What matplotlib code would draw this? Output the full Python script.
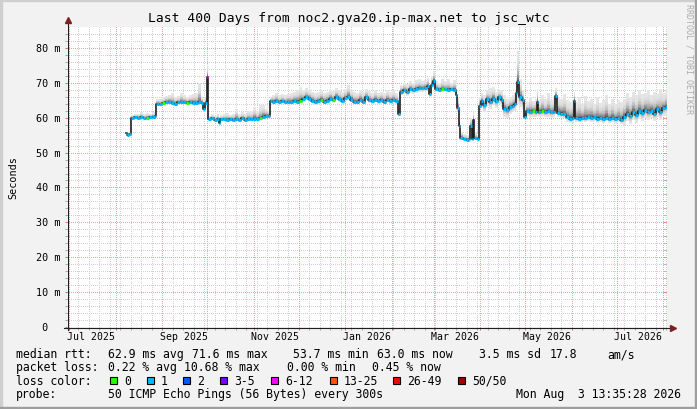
import datetime as dt
import numpy as np
import matplotlib
matplotlib.use("Agg")
import matplotlib.pyplot as plt
import matplotlib.transforms as mtransforms
from matplotlib.collections import LineCollection
from matplotlib.lines import Line2D
from matplotlib.patches import Rectangle

plt.rcParams['font.family'] = ['DejaVu Sans Mono']

W, H = 697, 410
start = dt.datetime(2025, 6, 29, 13, 35, 28)   # 400 days before the stamp
span_days = 400.0
y_max = 86.0

title = 'Last 400 Days from noc2.gva20.ip-max.net to jsc_wtc'

# sample times in days since start
days = [39.3, 40.3, 41.3, 42.7, 44.7, 46.7, 48.7, 50.7, 52.7, 54.7,
        56.7, 58.7, 59.3, 61.3, 63.3, 65.3, 67.3, 69.3, 71.3, 73.3,
        75.3, 77.3, 79.3, 81.3, 83.3, 85.3, 87.3, 89.3, 90.7, 91.7,
        93.0, 94.0, 96.0, 98.0, 100.0, 101.3, 102.3, 104.0, 106.0, 108.0,
        110.0, 112.0, 114.0, 116.0, 118.0, 120.0, 122.0, 124.0, 126.0, 128.0,
        130.0, 132.0, 134.0, 135.0, 136.7, 138.7, 140.7, 142.7, 144.7, 146.7,
        148.7, 150.7, 152.7, 154.7, 156.7, 158.7, 160.7, 162.7, 164.7, 166.7,
        168.7, 170.7, 172.7, 174.7, 176.7, 178.7, 180.7, 182.7, 184.7, 186.7,
        188.7, 190.7, 192.7, 194.7, 196.7, 198.7, 200.7, 202.7, 204.7, 206.7,
        208.7, 210.7, 212.7, 214.7, 216.7, 218.7, 220.7, 222.0, 224.0, 226.0,
        228.0, 230.0, 232.0, 234.0, 236.0, 238.0, 240.0, 241.3, 242.7, 244.0,
        245.3, 247.3, 249.3, 251.3, 253.3, 255.3, 257.3, 259.3, 260.3, 261.3,
        262.3, 264.0, 266.0, 268.0, 268.7, 269.7, 270.5, 271.3, 273.3, 274.7,
        276.0, 277.3, 279.3, 281.3, 283.3, 285.3, 287.3, 289.3, 290.7, 292.7,
        294.7, 296.7, 298.0, 299.3, 300.3, 301.3, 303.3, 304.7, 306.3, 308.3,
        310.3, 312.3, 313.3, 314.3, 316.0, 318.0, 320.0, 322.0, 324.0, 325.3,
        326.7, 328.7, 330.7, 332.7, 334.7, 336.7, 337.7, 338.7, 340.7, 342.7,
        344.7, 346.7, 348.7, 350.7, 352.7, 354.7, 356.7, 358.7, 360.7, 362.7,
        364.7, 366.7, 368.7, 370.7, 372.7, 374.7, 376.7, 378.7, 380.7, 382.7,
        384.7, 386.7, 388.7, 390.7, 392.7, 394.7, 396.7, 398.7]
data_end = 400.0

# median rtt (ms)
median = [55.5, 55.1, 55.4, 59.9, 60.1, 60.0, 60.2, 59.9, 60.0, 60.1,
          60.3, 60.4, 64.0, 63.8, 64.1, 64.5, 64.6, 64.2, 64.0, 64.4,
          64.5, 64.4, 64.3, 64.5, 64.3, 64.2, 64.4, 64.2, 62.5, 64.3,
          71.6, 59.5, 59.8, 59.4, 59.7, 58.6, 59.5, 59.6, 59.4, 59.7,
          59.3, 59.6, 59.4, 59.8, 59.3, 59.6, 59.5, 59.7, 59.6, 59.8,
          60.3, 60.5, 60.6, 64.8, 64.6, 64.9, 64.5, 64.7, 64.4, 64.6,
          64.5, 64.8, 64.6, 64.9, 65.3, 65.9, 65.5, 64.9, 64.5, 64.7,
          65.2, 64.6, 64.9, 65.5, 65.0, 66.0, 65.3, 64.8, 65.6, 66.0,
          65.2, 64.6, 64.6, 65.2, 64.6, 65.8, 65.0, 64.7, 65.2, 64.8,
          65.1, 64.6, 65.2, 64.8, 65.1, 64.7, 61.0, 67.4, 67.9, 67.3,
          68.2, 67.9, 68.1, 68.4, 68.4, 68.6, 69.1, 66.9, 69.5, 70.6,
          68.3, 68.0, 68.2, 68.1, 68.0, 68.1, 68.0, 66.5, 62.9, 57.7,
          54.3, 53.9, 53.7, 54.0, 57.5, 53.8, 59.4, 54.1, 53.8, 63.4,
          64.8, 63.5, 65.3, 64.6, 65.5, 64.7, 65.8, 65.1, 62.6, 62.1,
          63.0, 63.4, 64.0, 67.0, 70.1, 65.8, 65.0, 60.1, 61.9, 61.6,
          61.8, 61.6, 64.5, 61.7, 61.9, 61.6, 61.8, 61.5, 61.7, 66.3,
          61.4, 61.2, 61.0, 60.1, 59.7, 59.8, 64.9, 59.9, 59.7, 60.0,
          59.8, 60.1, 59.9, 60.1, 59.6, 59.9, 59.5, 60.0, 59.6, 59.9,
          59.5, 59.8, 59.3, 60.2, 61.2, 60.5, 61.5, 60.8, 61.8, 61.3,
          62.2, 61.5, 62.0, 61.2, 62.5, 61.6, 62.8, 63.0]

# highest ping of each sample (top of the smoke)
smoke_top = [55.9, 55.6, 55.8, 60.8, 61.0, 61.2, 61.5, 61.0, 61.3, 61.2,
             61.5, 61.6, 65.3, 65.5, 66.0, 66.3, 66.5, 67.0, 66.0, 66.2,
             67.2, 66.5, 66.0, 66.4, 66.8, 67.0, 70.0, 66.0, 65.0, 66.0,
             75.3, 60.5, 61.0, 60.6, 61.2, 60.3, 60.8, 61.0, 61.3, 60.8,
             61.2, 62.5, 61.0, 61.5, 61.2, 62.0, 61.8, 63.0, 62.0, 63.5,
             63.6, 62.5, 62.0, 66.0, 66.5, 67.0, 66.4, 66.8, 66.5, 66.9,
             67.0, 67.5, 68.0, 68.7, 68.0, 68.5, 68.0, 67.5, 67.0, 67.4,
             67.8, 67.2, 67.5, 68.0, 67.6, 68.4, 68.0, 67.5, 68.2, 69.5,
             68.0, 67.3, 67.2, 67.8, 67.5, 68.3, 67.6, 67.0, 67.8, 67.2,
             67.5, 67.0, 67.9, 67.3, 67.8, 67.2, 66.0, 69.5, 70.0, 69.8,
             70.5, 70.0, 70.8, 71.0, 70.5, 70.8, 71.5, 69.5, 72.0, 73.5,
             70.5, 70.0, 71.0, 70.5, 71.0, 70.0, 70.8, 69.0, 66.0, 61.0,
             56.0, 55.3, 55.0, 55.5, 60.0, 55.2, 61.5, 55.8, 55.0, 66.0,
             67.0, 66.5, 68.0, 68.5, 68.7, 67.5, 68.0, 67.8, 66.5, 65.5,
             66.0, 66.5, 67.0, 72.0, 79.0, 71.0, 68.0, 64.0, 64.5, 66.0,
             64.8, 65.5, 68.2, 65.0, 66.5, 65.3, 67.0, 65.2, 65.8, 68.5,
             66.0, 65.5, 66.8, 65.0, 64.5, 65.5, 67.5, 64.5, 65.8, 64.0,
             66.3, 64.8, 65.5, 63.8, 66.0, 64.2, 65.0, 66.5, 64.0, 65.3,
             63.8, 65.0, 64.5, 65.5, 67.0, 66.0, 67.5, 66.5, 67.8, 66.8,
             67.2, 68.0, 66.5, 67.5, 66.8, 68.2, 67.0, 67.8]

# lowest ping of each sample (bottom of the smoke)
smoke_bot = [55.2, 54.9, 55.1, 59.7, 59.9, 59.8, 60.0, 59.7, 59.8, 59.9,
             60.1, 60.2, 63.7, 63.5, 63.8, 64.2, 64.3, 63.9, 63.7, 64.1,
             64.2, 64.1, 64.0, 64.2, 64.0, 63.9, 64.1, 63.9, 62.0, 63.8,
             62.0, 59.2, 59.5, 59.1, 59.4, 58.2, 59.2, 59.3, 59.1, 59.4,
             59.0, 59.3, 59.1, 59.5, 59.0, 59.3, 59.2, 59.4, 59.3, 59.5,
             60.0, 60.2, 60.3, 64.3, 64.1, 64.4, 64.0, 64.2, 63.9, 64.1,
             64.0, 64.3, 64.1, 64.4, 64.5, 65.1, 64.7, 64.1, 63.7, 63.9,
             64.4, 63.8, 64.1, 64.7, 64.2, 65.2, 64.5, 64.0, 64.8, 65.2,
             64.4, 63.8, 63.8, 64.4, 63.8, 65.0, 64.2, 63.9, 64.4, 64.0,
             64.3, 63.8, 64.4, 64.0, 64.3, 63.9, 60.5, 66.4, 66.9, 66.3,
             67.2, 66.9, 67.1, 67.4, 67.4, 67.6, 68.1, 66.0, 68.5, 69.6,
             67.8, 67.5, 67.7, 67.6, 67.5, 67.6, 67.5, 66.0, 62.0, 57.0,
             54.0, 53.6, 53.4, 53.7, 54.0, 53.5, 54.0, 53.8, 53.5, 62.5,
             62.8, 61.5, 63.3, 62.6, 63.5, 62.7, 63.8, 63.1, 60.3, 60.0,
             61.0, 61.5, 62.0, 63.0, 64.0, 63.0, 62.5, 59.5, 60.4, 60.1,
             60.3, 60.1, 60.5, 60.2, 60.4, 60.1, 60.3, 60.0, 60.2, 61.0,
             60.2, 60.0, 59.8, 58.9, 58.5, 58.6, 59.5, 58.9, 58.7, 59.0,
             58.8, 59.1, 58.9, 59.1, 58.6, 58.9, 58.5, 59.0, 58.6, 58.9,
             58.5, 58.8, 58.3, 58.0, 59.0, 58.3, 59.3, 58.6, 59.6, 59.1,
             60.0, 59.3, 59.8, 59.0, 60.3, 59.4, 60.6, 60.8]

# loss class per sample (index into loss_colors)
loss = [1, 1, 1, 1, 1, 1, 1, 1, 0, 1,
        1, 1, 1, 1, 0, 1, 1, 1, 1, 1,
        1, 1, 0, 1, 1, 1, 1, 1, 1, 1,
        4, 1, 1, 1, 1, 1, 1, 1, 1, 1,
        1, 1, 1, 1, 1, 1, 1, 1, 1, 0,
        1, 1, 1, 1, 1, 1, 1, 1, 1, 1,
        1, 1, 1, 0, 1, 1, 1, 1, 1, 1,
        0, 1, 1, 1, 0, 1, 1, 1, 1, 1,
        1, 1, 1, 1, 1, 1, 1, 1, 1, 1,
        1, 1, 1, 1, 1, 1, 1, 1, 1, 1,
        1, 1, 1, 1, 1, 1, 1, 1, 1, 1,
        1, 1, 0, 1, 1, 1, 1, 1, 1, 1,
        1, 1, 1, 1, 1, 1, 3, 1, 1, 1,
        1, 1, 1, 1, 1, 1, 1, 1, 1, 1,
        1, 1, 1, 1, 1, 1, 1, 1, 1, 1,
        0, 1, 1, 1, 0, 1, 1, 1, 1, 1,
        1, 1, 1, 1, 1, 1, 1, 1, 1, 1,
        1, 1, 1, 1, 1, 1, 1, 1, 1, 1,
        1, 1, 1, 1, 1, 1, 1, 1, 1, 1,
        1, 1, 1, 1, 1, 1, 1, 1]

loss_labels = ['0', '1', '2', '3-5', '6-12', '13-25', '26-49', '50/50']
loss_colors = ['#26ff00', '#00b8ff', '#0059ff', '#7e00ff',
               '#ff00ff', '#ff5500', '#ff0000', '#a00000']

y_ticks = [0, 10, 20, 30, 40, 50, 60, 70, 80]
y_tick_labels = [' 0', '10 m', '20 m', '30 m', '40 m', '50 m', '60 m', '70 m', '80 m']
x_tick_labels = ['Jul 2025', 'Sep 2025', 'Nov 2025', 'Jan 2026',
                 'Mar 2026', 'May 2026', 'Jul 2026']
x_label_months = [(2025, 7), (2025, 9), (2025, 11), (2026, 1),
                  (2026, 3), (2026, 5), (2026, 7)]

rtt_stats = ['62.9 ms avg', '71.6 ms max', '53.7 ms min', '63.0 ms now',
             '3.5 ms sd', '17.8', 'am/s']
loss_stats = ['0.22 % avg', '10.68 % max', '0.00 % min', '0.45 % now']
probe_text = '50 ICMP Echo Pings (56 Bytes) every 300s'
stamp = 'Mon Aug  3 13:35:28 2026'


def to_day(t):
    return (t - start).total_seconds() / 86400.0


# ---- figure / canvas ----
L, T, PW, PH = 67, 28, 600, 300   # plot area in pixels (from top-left)
fig = plt.figure(figsize=(W / 100, H / 100), dpi=100, facecolor='#f2f2f2')
ax = fig.add_axes([L / W, (H - T - PH) / H, PW / W, PH / H])
ax.set_facecolor('white')
ax.set_xlim(0, span_days)
ax.set_ylim(0, y_max)
for s in ax.spines.values():
    s.set_visible(False)

pix = mtransforms.IdentityTransform()
# 3d shade border
fig.add_artist(Rectangle((0, H - 2), W, 2, color='#cfcfcf', transform=pix))
fig.add_artist(Rectangle((0, 0), 2, H, color='#cfcfcf', transform=pix))
fig.add_artist(Rectangle((0, 0), W, 2, color='#9e9e9e', transform=pix))
fig.add_artist(Rectangle((W - 2, 0), 2, H, color='#9e9e9e', transform=pix))

# ---- grid (pixel dotted, drawn as an image) ----
month_days = []
y, m = 2025, 7
while True:
    d = to_day(dt.datetime(y, m, 1))
    if d > span_days:
        break
    month_days.append(d)
    m += 1
    if m > 12:
        y, m = y + 1, 1
week_days = []
wk = dt.datetime(2025, 6, 30)
while to_day(wk) < span_days:
    week_days.append(to_day(wk))
    wk += dt.timedelta(days=7)

minor_rgb = np.array([208, 208, 208], dtype=np.uint8)
major_rgb = np.array([244, 160, 160], dtype=np.uint8)
grid = np.full((PH, PW, 3), 255, dtype=np.uint8)


def col_of(d):
    return min(PW - 1, int(round(d / span_days * PW)))


def row_of(v):
    return max(0, PH - int(round(v / y_max * PH)))


for v in range(2, int(y_max), 2):
    if v % 10:
        grid[row_of(v), ::2] = minor_rgb
for d in week_days:
    grid[::2, col_of(d)] = minor_rgb
for v in y_ticks[1:]:
    grid[row_of(v), ::2] = major_rgb
for d in month_days:
    grid[::2, col_of(d)] = major_rgb
ax.imshow(grid, extent=(0, span_days, 0, y_max), aspect='auto',
          interpolation='nearest', resample=False, zorder=0.5)

# tick stubs
ax.set_xticks(month_days)
ax.set_xticks(week_days, minor=True)
ax.set_yticks(y_ticks)
ax.set_yticks(range(0, 86, 2), minor=True)
ax.set_xticklabels([])
ax.set_yticklabels([])
ax.tick_params(which='major', direction='out', length=1.8, width=0.72, color='#d07070')
ax.tick_params(which='minor', direction='out', length=1.8, width=0.72, color='#a8a8a8')
yt = mtransforms.blended_transform_factory(ax.transAxes, ax.transData)
for v in range(2, 86, 2):
    c = '#e89090' if v % 10 == 0 else '#b8b8b8'
    ax.plot([1 - 3 / PW, 1], [v, v], transform=yt, color=c, lw=0.72, zorder=1)

# ---- smoke ----
d_ext = np.array(days + [data_end])
med = np.array(median)
top = np.array(smoke_top)
bot = np.array(smoke_bot)


def ext(a):
    return np.append(a, a[-1])


def shade(f):
    g = 0.90 - 0.62 * (1 - f) ** 3
    return (g, g, g)


n_up = 14
for k in range(n_up):
    lo = med + (top - med) * k / n_up
    hi = med + (top - med) * (k + 1) / n_up
    ax.fill_between(d_ext, ext(lo), ext(hi), step='post', color=shade((k + 0.5) / n_up),
                    lw=0, antialiased=False, zorder=2)
n_dn = 8
for k in range(n_dn):
    hi = med - (med - bot) * k / n_dn
    lo = med - (med - bot) * (k + 1) / n_dn
    ax.fill_between(d_ext, ext(lo), ext(hi), step='post', color=shade((k + 0.5) / n_dn),
                    lw=0, antialiased=False, zorder=2)

# ---- median line ----
ax.step(d_ext, ext(med), where='post', color='#202020', lw=1.2, zorder=3)
segs = [[(d_ext[i], med[i]), (d_ext[i + 1], med[i])] for i in range(len(med))]
ax.add_collection(LineCollection(segs, colors=[loss_colors[c] for c in loss],
                                 linewidths=2.2, capstyle='butt', zorder=4))

# ---- axes lines and arrows ----
fig.add_artist(Line2D([L + 0.5, L + 0.5], [H - (T + PH) - 3, H - T + 6],
                      color='#1f1f1f', lw=0.8, transform=pix))
fig.add_artist(Line2D([L - 3, L + PW + 5], [H - (T + PH) - 0.5] * 2,
                      color='#1f1f1f', lw=0.8, transform=pix))
fig.add_artist(Line2D([L + 0.5], [H - T + 7], marker='^', ms=4, color='#801f1f',
                      mec='#801f1f', transform=pix))
fig.add_artist(Line2D([L + PW + 6], [H - (T + PH) - 0.5], marker='>', ms=4,
                      color='#801f1f', mec='#801f1f', transform=pix))

# ---- tick labels ----
ylab_tr = mtransforms.offset_copy(yt, fig=fig, x=-31, y=0, units='dots')
for v, s in zip(y_ticks, y_tick_labels):
    ax.text(0, v, s, transform=ylab_tr, ha='left', va='center', fontsize=7.3)
xt = mtransforms.blended_transform_factory(ax.transData, ax.transAxes)
xlab_tr = mtransforms.offset_copy(xt, fig=fig, x=0, y=-9, units='dots')
for (yy, mm), s in zip(x_label_months, x_tick_labels):
    d = to_day(dt.datetime(yy, mm, 15, 12))
    ax.text(d, 0, s, transform=xlab_tr, ha='center', va='center', fontsize=7.1)

# ---- titles ----
fig.text(W / 2, H - 19, title, transform=pix, ha='center', va='center', fontsize=9.4)
fig.text(13, H - 178, 'Seconds', transform=pix, rotation=90, ha='center',
         va='center', fontsize=7.3)
fig.text(689, H - 4, 'RRDTOOL / TOBI OETIKER', transform=pix, rotation=270,
         ha='center', va='top', fontsize=6.0, color='#ababab')

# ---- legend ----
lf = 8.3
row_y = [355, 368, 381.5, 395]
fig.text(16, H - row_y[0], 'median rtt:', transform=pix, va='center', fontsize=lf)
for x, s in zip([107.6, 192, 293.3, 376.9, 479, 549.8, 607], rtt_stats):
    fig.text(x, H - row_y[0], s, transform=pix, va='center', fontsize=lf)
fig.text(16, H - row_y[1], 'packet loss:', transform=pix, va='center', fontsize=lf)
for x, s in zip([107.6, 183.6, 286.7, 372.4], loss_stats):
    fig.text(x, H - row_y[1], s, transform=pix, va='center', fontsize=lf)
fig.text(16, H - row_y[2], 'loss color:', transform=pix, va='center', fontsize=lf)
for x, s, c in zip([109.8, 146.7, 183.1, 220, 271, 329.8, 393.3, 457.8],
                   loss_labels, loss_colors):
    fig.add_artist(Rectangle((x, H - row_y[2] - 3.5), 7, 7, facecolor=c,
                             edgecolor='black', lw=0.8, transform=pix))
    fig.text(x + 14, H - row_y[2], s, transform=pix, va='center', fontsize=lf)
fig.text(16, H - row_y[3], 'probe:', transform=pix, va='center', fontsize=lf)
fig.text(107.6, H - row_y[3], probe_text, transform=pix, va='center', fontsize=lf)
fig.text(681, H - row_y[3], stamp, transform=pix, ha='right', va='center', fontsize=lf)

fig.savefig('out.png', dpi=100, facecolor=fig.get_facecolor())
